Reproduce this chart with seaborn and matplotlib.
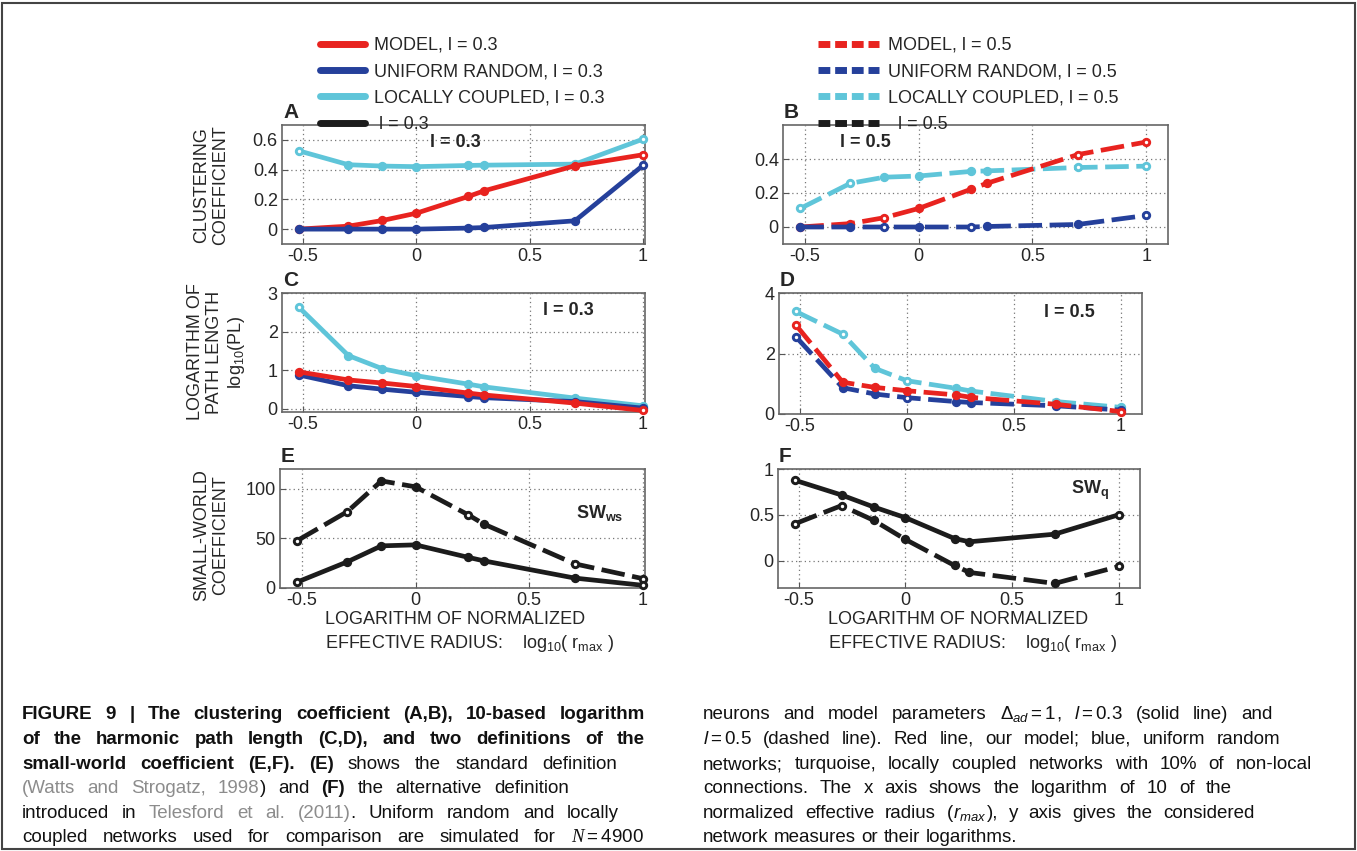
import pandas as pd
import seaborn as sns
import matplotlib.pyplot as plt
from matplotlib.lines import Line2D
from matplotlib.patches import Rectangle
from matplotlib import font_manager

# log10 of normalized effective radius (shared x for every panel)
x_vals = [-0.52, -0.30, -0.15, 0.0, 0.23, 0.30, 0.70, 1.0]

# A: clustering coefficient, l = 0.3
clu_model_03 = [0.0, 0.02, 0.058, 0.107, 0.22, 0.258, 0.426, 0.50]
clu_unif_03 = [0.0, 0.0, 0.0, 0.0, 0.007, 0.011, 0.056, 0.428]
clu_local_03 = [0.527, 0.433, 0.424, 0.42, 0.428, 0.43, 0.437, 0.605]
# B: clustering coefficient, l = 0.5
clu_model_05 = [0.0, 0.02, 0.055, 0.109, 0.222, 0.257, 0.426, 0.50]
clu_unif_05 = [0.0, 0.0, 0.0, 0.0, 0.0, 0.003, 0.015, 0.068]
clu_local_05 = [0.109, 0.257, 0.293, 0.30, 0.327, 0.33, 0.35, 0.358]
# C: log10 path length, l = 0.3
pl_model_03 = [0.96, 0.75, 0.67, 0.58, 0.41, 0.36, 0.15, -0.04]
pl_unif_03 = [0.88, 0.60, 0.51, 0.43, 0.32, 0.29, 0.19, 0.02]
pl_local_03 = [2.64, 1.38, 1.04, 0.86, 0.64, 0.57, 0.28, 0.08]
# D: log10 path length, l = 0.5
pl_model_05 = [2.95, 1.05, 0.88, 0.77, 0.63, 0.55, 0.32, 0.08]
pl_unif_05 = [2.56, 0.87, 0.66, 0.54, 0.41, 0.38, 0.27, 0.13]
pl_local_05 = [3.39, 2.64, 1.51, 1.10, 0.85, 0.76, 0.41, 0.22]
# E: small-world coefficient (Watts-Strogatz)
sw_ws_03 = [6.0, 26.4, 42.5, 43.5, 31.0, 27.4, 10.0, 2.7]
sw_ws_05 = [47.8, 77.0, 108.0, 102.0, 74.0, 64.5, 24.4, 9.4]
# F: small-world coefficient (Telesford)
sw_q_03 = [0.878, 0.716, 0.586, 0.468, 0.24, 0.205, 0.288, 0.50]
sw_q_05 = [0.40, 0.60, 0.44, 0.23, -0.054, -0.13, -0.25, -0.065]

legend_03 = ['MODEL, l = 0.3', 'UNIFORM RANDOM, l = 0.3', 'LOCALLY COUPLED, l = 0.3', ' l = 0.3']
legend_05 = ['MODEL, l = 0.5', 'UNIFORM RANDOM, l = 0.5', 'LOCALLY COUPLED, l = 0.5', '  l = 0.5']

RED, BLUE, CYAN, BLACK = '#e8231f', '#25409b', '#5fc5d9', '#1c1c1c'
SOLID = '-'
DASH = (0, (5, 1.6))

sns.set_style('ticks')
plt.rcParams['font.family'] = ['Liberation Sans', 'DejaVu Sans']
plt.rcParams['axes.unicode_minus'] = False
plt.rcParams['mathtext.fontset'] = 'custom'
plt.rcParams['mathtext.rm'] = 'Liberation Sans'
plt.rcParams['mathtext.it'] = 'Liberation Sans:italic'
plt.rcParams['mathtext.bf'] = 'Liberation Sans:bold'
plt.rcParams['mathtext.cal'] = 'Liberation Serif:italic'

try:
    font_manager.findfont('Liberation Sans Narrow', fallback_to_default=False)
    cap_font = 'Liberation Sans Narrow'
except ValueError:
    cap_font = 'Liberation Sans'

W, H = 1357, 851
fig = plt.figure(figsize=(W / 100, H / 100), dpi=100)


def px_axes(l, t, r, b):
    return fig.add_axes([l / W, 1 - b / H, (r - l) / W, (b - t) / H])


panels = [
    dict(box=(282, 125, 645, 244), tag='A', xlim=(-0.593, 1.009), ylim=(-0.1, 0.7),
         yt=[0, 0.2, 0.4, 0.6], ytl=['0', '0.2', '0.4', '0.6'],
         series=[(clu_local_03, CYAN, SOLID, [0, 7]), (clu_model_03, RED, SOLID, [7]),
                 (clu_unif_03, BLUE, SOLID, [7])],
         note=('l = 0.3', 0.477, 0.857)),
    dict(box=(783, 125, 1168, 244), tag='B', xlim=(-0.596, 1.096), ylim=(-0.1, 0.6),
         yt=[0, 0.2, 0.4], ytl=['0', '0.2', '0.4'],
         series=[(clu_local_05, CYAN, DASH, [0, 1, 6, 7]), (clu_model_05, RED, DASH, [2, 6, 7]),
                 (clu_unif_05, BLUE, DASH, [2, 4, 7])],
         note=('l = 0.5', 0.213, 0.85)),
    dict(box=(282, 293, 645, 412), tag='C', xlim=(-0.593, 1.009), ylim=(-0.08, 3),
         yt=[0, 1, 2, 3], ytl=['0', '1', '2', '3'],
         series=[(pl_local_03, CYAN, SOLID, [0, 7]), (pl_unif_03, BLUE, SOLID, [0]),
                 (pl_model_03, RED, SOLID, [7])],
         note=('l = 0.3', 0.79, 0.85)),
    dict(box=(779, 293, 1142, 414), tag='D', xlim=(-0.598, 1.1), ylim=(0, 4),
         yt=[0, 2, 4], ytl=['0', '2', '4'],
         series=[(pl_local_05, CYAN, DASH, [0, 1, 3, 7]), (pl_unif_05, BLUE, DASH, [0, 3]),
                 (pl_model_05, RED, DASH, [0, 7])],
         note=('l = 0.5', 0.80, 0.835)),
    dict(box=(280, 469, 645, 588), tag='E', xlim=(-0.596, 1.009), ylim=(0, 120),
         yt=[0, 50, 100], ytl=['0', '50', '100'],
         series=[(sw_ws_05, BLACK, DASH, [0, 1, 4, 6, 7]), (sw_ws_03, BLACK, SOLID, [0, 7])],
         note=(r'$\mathbf{SW_{ws}}$', 0.877, 0.63)),
    dict(box=(778, 469, 1140, 588), tag='F', xlim=(-0.598, 1.1), ylim=(-0.3, 1),
         yt=[0, 0.5, 1], ytl=['0', '0.5', '1'],
         series=[(sw_q_05, BLACK, DASH, [0, 1, 7]), (sw_q_03, BLACK, SOLID, [0, 7])],
         note=(r'$\mathbf{SW_q}$', 0.862, 0.82)),
]

for p in panels:
    ax = px_axes(*p['box'])
    for i, (ys, col, ls, opens) in enumerate(p['series']):
        df = pd.DataFrame({'x': x_vals, 'y': ys})
        z = 3 + i * 0.2
        sns.lineplot(data=df, x='x', y='y', ax=ax, color=col, linewidth=3.4, linestyle=ls,
                     marker='o', markersize=5.5, markerfacecolor=col, markeredgecolor=col,
                     markeredgewidth=1.2, estimator=None, sort=False, legend=False,
                     zorder=z, clip_on=False)
        od = df.iloc[opens]
        sns.scatterplot(data=od, x='x', y='y', ax=ax, color='white', s=6, linewidth=0,
                        zorder=z + 0.1, clip_on=False, legend=False)
    ax.set_xlim(*p['xlim'])
    ax.set_ylim(*p['ylim'])
    ax.set_xticks([-0.5, 0, 0.5, 1])
    ax.set_xticklabels(['-0.5', '0', '0.5', '1'])
    ax.set_yticks(p['yt'])
    ax.set_yticklabels(p['ytl'])
    ax.set_xlabel('')
    ax.set_ylabel('')
    ax.grid(True, linestyle=(0, (1, 2.5)), color='#777777', linewidth=0.9)
    ax.tick_params(labelsize=13, direction='in', length=4, color='#555555', pad=3)
    for s in ax.spines.values():
        s.set_visible(True)
        s.set_color('#666666')
        s.set_linewidth(1.2)
    txt, tx, ty = p['note']
    ax.text(tx, ty, txt, transform=ax.transAxes, ha='center', va='center',
            fontsize=13, fontweight='bold', zorder=10)
    l, t = p['box'][0], p['box'][1]
    fig.text((l + 1) / W, 1 - (t - 12) / H, p['tag'], fontsize=15, fontweight='bold',
             ha='left', va='center')

# y labels of the left column
ylab_kw = dict(rotation=90, ha='center', va='center', multialignment='center', fontsize=13,
               linespacing=1.15)
fig.text(211 / W, 1 - 185 / H, 'CLUSTERING\nCOEFFICIENT', **ylab_kw)
fig.text(217 / W, 1 - 352 / H, 'LOGARITHM OF\nPATH LENGTH\nlog$_{10}$(PL)', **ylab_kw)
fig.text(211 / W, 1 - 535 / H, 'SMALL-WORLD\nCOEFFICIENT', **ylab_kw)

# x labels under E and F, one text per line
for xl in (325, 828):
    fig.text(xl / W, 1 - 620 / H, 'LOGARITHM OF NORMALIZED', fontsize=13, ha='left', va='center')
    fig.text(xl / W, 1 - 644 / H, 'EFFECTIVE RADIUS:    log$_{10}$( r$_{\\mathrm{max}}$ )',
             fontsize=13, ha='left', va='center')

# legends
h03 = [Line2D([], [], color=c, lw=5, linestyle='-') for c in (RED, BLUE, CYAN, BLACK)]
h05 = [Line2D([], [], color=c, lw=5, linestyle=(0, (1.7, 0.7))) for c in (RED, BLUE, CYAN, BLACK)]
leg_kw = dict(loc='upper left', frameon=False, fontsize=13, handletextpad=0.5,
              labelspacing=0.52, borderpad=0, borderaxespad=0)
fig.legend(h03, legend_03, bbox_to_anchor=(320 / W, 1 - 37 / H), handlelength=2.5, **leg_kw)
fig.legend(h05, legend_05, bbox_to_anchor=(818 / W, 1 - 37 / H), handlelength=3.4, **leg_kw)

# outer frame
fig.add_artist(Rectangle((2 / W, 2 / H), (W - 4) / W, (H - 5) / H, transform=fig.transFigure,
                         fill=False, edgecolor='#444444', linewidth=1.5))

# caption
GREY = '#8c8c8c'
renderer = fig.canvas.get_renderer()


def caption_line(x0, x1, y, parts, justify=True, size=13.5):
    words = []
    prev_space = True
    for txt, wt, col in parts:
        toks = [txt.strip()] if '$' in txt else txt.split()
        glue = (not txt.startswith(' ')) and (not prev_space) and len(words) > 0
        for i, tk in enumerate(toks):
            if i == 0 and glue:
                words[-1].append((tk, wt, col))
            else:
                words.append([(tk, wt, col)])
        prev_space = txt.endswith(' ')
    arts, widths = [], []
    for w in words:
        row = []
        for tk, wt, col in w:
            fam = cap_font if '$' not in tk else 'Liberation Sans'
            a = fig.text(0, 1 - y / H, tk, fontsize=size, fontweight=wt, color=col,
                         family=fam, ha='left', va='baseline')
            row.append((a, a.get_window_extent(renderer).width))
        arts.append(row)
        widths.append(sum(wd for _, wd in row))
    em = size * 100 / 72
    if justify and len(words) > 1:
        gap = max((x1 - x0 - sum(widths)) / (len(words) - 1), 0.18 * em)
    else:
        gap = 0.3 * em
    x = x0
    for row in arts:
        for a, wd in row:
            a.set_x(x / W)
            x += wd
        x += gap


N, B = 'normal', 'bold'
K = '#111111'
left_lines = [
    (645, [('FIGURE 9 | The clustering coefficient (A,B), 10-based logarithm', B, K)]),
    (645, [('of the harmonic path length (C,D), and two definitions of the', B, K)]),
    (617, [('small-world coefficient (E,F). (E)', B, K), (' shows the standard definition', N, K)]),
    (569, [('(Watts and Strogatz, 1998', N, GREY), (') and ', N, K), ('(F)', B, K),
           (' the alternative definition', N, K)]),
    (619, [('introduced in ', N, K), ('Telesford et al. (2011)', N, GREY),
           ('. Uniform random and locally', N, K)]),
    (644, [('coupled networks used for comparison are simulated for ', N, K),
           (r'$\mathcal{N} = 4900$', N, K)]),
]
right_lines = [
    (1273, [('neurons and model parameters ', N, K), (r'$\Delta_{ad} = 1$', N, K), (', ', N, K),
            (r' $l = 0.3$', N, K), (' (solid line) and', N, K)]),
    (1280, [(r'$l = 0.5$', N, K), (' (dashed line). Red line, our model; blue, uniform random', N, K)]),
    (1312, [('networks; turquoise, locally coupled networks with 10% of non-local', N, K)]),
    (1232, [('connections. The x axis shows the logarithm of 10 of the', N, K)]),
    (1255, [('normalized effective radius (', N, K), (r'$r_{max}$', N, K),
            ('), y axis gives the considered', N, K)]),
    (None, [('network measures or their logarithms.', N, K)]),
]
base_y = [719, 744, 769, 793, 818, 842]
for (x1, parts), y in zip(left_lines, base_y):
    caption_line(22, x1, y, parts)
for (x1, parts), y in zip(right_lines, base_y):
    caption_line(703, x1 if x1 else 1400, y, parts, justify=x1 is not None)

fig.savefig('out.png', dpi=100)
